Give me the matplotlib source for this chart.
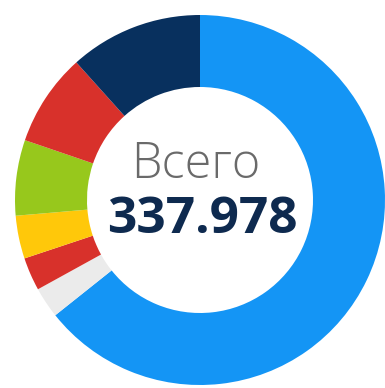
import matplotlib
matplotlib.use("Agg")
from matplotlib import pyplot as plt

# shares of the total, clockwise from 12 o'clock
labels = ["blue", "other", "red_small", "yellow", "green", "red", "navy"]
values = [217300, 9100, 9800, 12700, 22300, 27400, 39378]
colors = ["#1495F5", "#EBEBEB", "#D8312B", "#FFC80A", "#97C81C", "#D8312B", "#08305E"]
total_label = "337.978"
title_label = "Всего"


def draw_donut():
    fig = plt.figure(figsize=(3.85, 3.88), dpi=100)
    ax = fig.add_axes([0, 0, 1, 1])

    ax.pie(values, colors=colors, startangle=90, counterclock=False,
           center=(200, 188), radius=185,
           wedgeprops=dict(width=72, linewidth=0))

    # pie resets the limits, so put the pixel frame back afterwards
    ax.set_xlim(0, 385)
    ax.set_ylim(0, 388)
    ax.set_aspect("equal")
    ax.axis("off")

    ax.text(195.5, 210, title_label, ha="center", va="baseline",
            fontsize=35, color="#6A6A6A", family="Open Sans", fontweight="light")
    ax.text(202.5, 155, total_label, ha="center", va="baseline",
            fontsize=37, color="#0E2A4F", family="Open Sans", fontweight="bold")

    fig.savefig("out.png", dpi=100)


if __name__ == "__main__":
    draw_donut()
